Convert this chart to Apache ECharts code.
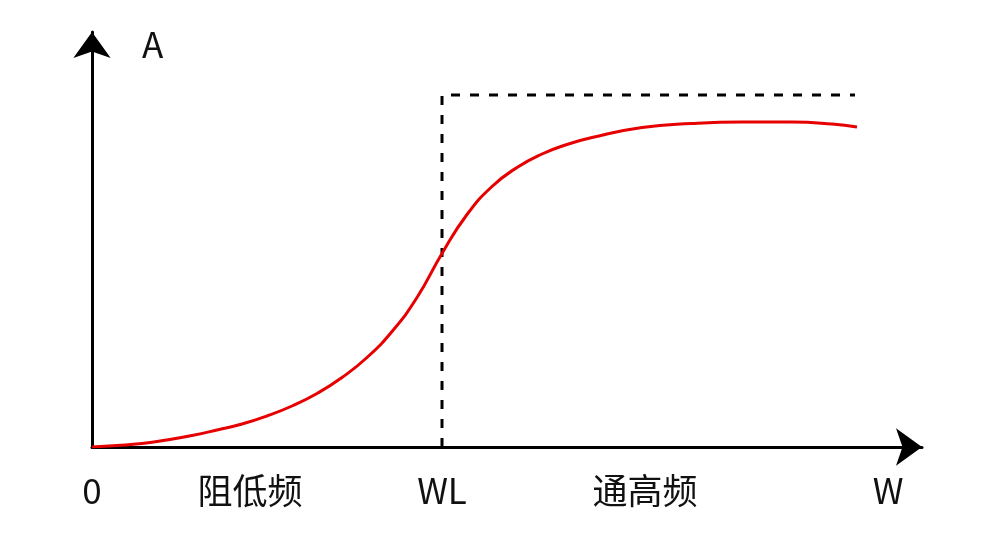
<!DOCTYPE html>
<html>
<head>
<meta charset="utf-8">
<script src="https://cdn.jsdelivr.net/npm/echarts@6/dist/echarts.min.js"></script>
<style>
html,body{margin:0;padding:0;background:#fff;}
#chart{width:983px;height:543px;}
</style>
</head>
<body>
<div id="chart"></div>
<script>
// Response curve (x: frequency units, y: amplitude units)
const curveX = [0, 25, 50, 75, 100, 125, 150, 175, 200, 225, 250, 275, 300, 325, 350, 375, 400, 425, 450, 475, 500, 550, 600, 650, 700, 740, 765];
const curveY = [0, 1.5, 3.5, 7, 11.5, 17, 23, 31, 41, 53.5, 69.5, 89.5, 115.5, 149.5, 193.5, 232.5, 260.5, 279.5, 293, 302.5, 309.5, 319.5, 323.5, 325, 325, 323, 320];
// Ideal (dashed) response
const idealX = [350, 350, 763];
const idealY = [0, 352, 352];
// X-axis labels
const labelPos = [0, 158, 350, 553, 796];
const labelText = ['0', '阻低频', 'WL', '通高频', 'W'];
const yName = 'A';
const xMax = 830, yMax = 415;

const font = '"Noto Sans CJK SC", "Noto Sans", sans-serif';
const chart = echarts.init(document.getElementById('chart'));
chart.setOption({
  animation: false,
  backgroundColor: '#ffffff',
  grid: {left: 92, top: 32, width: 830, height: 415, containLabel: false},
  xAxis: {
    type: 'value', min: 0, max: xMax,
    axisLine: {lineStyle: {color: '#000', width: 3}, symbol: ['none', 'arrow'], symbolSize: [28, 26]},
    axisTick: {show: false},
    splitLine: {show: false},
    axisLabel: {
      customValues: labelPos,
      formatter: function (v) { const i = labelPos.indexOf(v); return i >= 0 ? labelText[i] : ''; },
      fontSize: 35, color: '#111', fontFamily: font, margin: 26,
      showMinLabel: true, showMaxLabel: true
    }
  },
  yAxis: {
    type: 'value', min: 0, max: yMax,
    name: yName, nameLocation: 'end', nameGap: -13,
    nameTextStyle: {fontSize: 35, color: '#111', fontFamily: font, align: 'left', verticalAlign: 'middle', padding: [0, 0, 0, 50]},
    axisLine: {lineStyle: {color: '#000', width: 3}, symbol: ['none', 'arrow'], symbolSize: [28, 26]},
    axisTick: {show: false},
    splitLine: {show: false},
    axisLabel: {show: false}
  },
  series: [
    {
      type: 'line', data: idealX.map((x, i) => [x, idealY[i]]),
      showSymbol: false, symbol: 'none',
      lineStyle: {color: '#000', width: 3, type: [9, 10]},
      z: 2
    },
    {
      type: 'line', data: curveX.map((x, i) => [x, curveY[i]]),
      smooth: 0.5, showSymbol: false, symbol: 'none',
      lineStyle: {color: '#e60000', width: 3},
      z: 3
    }
  ]
});
</script>
</body>
</html>
